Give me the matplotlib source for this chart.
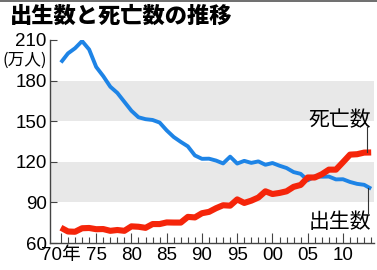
import numpy as np
import matplotlib
matplotlib.use("Agg")
import matplotlib.pyplot as plt
from matplotlib.lines import Line2D

# data (万人)
years = list(range(1970, 2015))
births = [193.4, 200.1, 203.9, 209.2, 203.0, 190.1, 183.3, 175.5, 170.9, 164.3,
          157.7, 152.9, 151.5, 150.9, 149.0, 143.2, 138.3, 134.7, 131.4, 124.7,
          122.2, 122.3, 120.9, 118.8, 123.8, 118.7, 120.7, 119.2, 120.3, 117.8,
          119.1, 117.1, 115.4, 112.4, 111.1, 106.3, 109.3, 109.0, 109.1, 107.0,
          107.1, 105.1, 103.7, 103.0, 100.1]
deaths = [71.3, 68.5, 68.3, 70.9, 71.1, 70.2, 70.3, 69.0, 69.6, 69.0,
          72.3, 72.0, 71.2, 74.0, 74.0, 75.2, 75.1, 75.1, 79.3, 78.9,
          82.0, 83.0, 85.7, 87.9, 87.6, 92.2, 89.6, 91.3, 93.6, 98.2,
          96.2, 97.0, 98.2, 101.5, 102.9, 108.4, 108.4, 110.8, 114.2, 114.2,
          119.7, 125.3, 125.6, 126.8, 126.9]
yticks = [60, 90, 120, 150, 180, 210]
xticks = [1970, 1975, 1980, 1985, 1990, 1995, 2000, 2005, 2010]
xlabels = ["70年", "75", "80", "85", "90", "95", "00", "05", "10"]

jp = "Noto Sans CJK JP"
num = ["Liberation Sans", jp]

fig = plt.figure(figsize=(3.77, 2.70), dpi=100)
ax = fig.add_axes([50/377, 0.1, 324/377, 203/270])

# gray bands
ax.axhspan(150, 180, color="#e8e8e8", lw=0, zorder=0)
ax.axhspan(90, 120, color="#e8e8e8", lw=0, zorder=0)

ax.plot(years, births, color="#1e84e6", lw=2.8, solid_capstyle="butt", zorder=3)
ax.plot(years, deaths, color="#f5250a", lw=4.4, solid_capstyle="butt", zorder=4)

ax.set_xlim(1968.45, 2014.4)
ax.set_ylim(60, 210)

for s in ["top", "right"]:
    ax.spines[s].set_visible(False)
for s in ["left", "bottom"]:
    ax.spines[s].set_color("#444444")
    ax.spines[s].set_linewidth(1.0)

ax.set_yticks(yticks)
ax.set_yticklabels([str(v) for v in yticks], family=num, fontsize=13.5)
ax.tick_params(axis="y", direction="in", length=5, width=0.8, color="#444444", pad=2.5)
ax.set_xticks(xticks)
ax.set_xticklabels(xlabels, family=num, fontsize=13.5)
ax.set_xticks(years, minor=True)
ax.tick_params(axis="x", which="major", direction="in", length=7, width=0.8, color="#444444", pad=3)
ax.tick_params(axis="x", which="minor", direction="in", length=4, width=0.8, color="#444444")

ax.text(-0.009, 195.2, "(万人)", transform=ax.get_yaxis_transform(), ha="right", va="center",
        family=[jp], fontsize=12)

# labels with leader lines
ax.text(2014.0, 151, "死亡数", ha="right", va="center", family=[jp], fontsize=15, zorder=5)
ax.plot([2013.4, 2013.4], [145.5, 127.5], color="#333333", lw=0.8, zorder=5)
ax.text(2014.0, 75.5, "出生数", ha="right", va="center", family=[jp], fontsize=15, zorder=5)
ax.plot([2013.6, 2013.6], [100.5, 82.0], color="#333333", lw=0.8, zorder=5)

fig.text(10/377, 1 - 16/270, "出生数と死亡数の推移", ha="left", va="center",
         family=[jp], fontsize=16, fontweight="black")
fig.add_artist(Line2D([0, 1], [0.998, 0.998], transform=fig.transFigure, color="#555555", lw=1.2))

fig.savefig("out.png", dpi=100)
